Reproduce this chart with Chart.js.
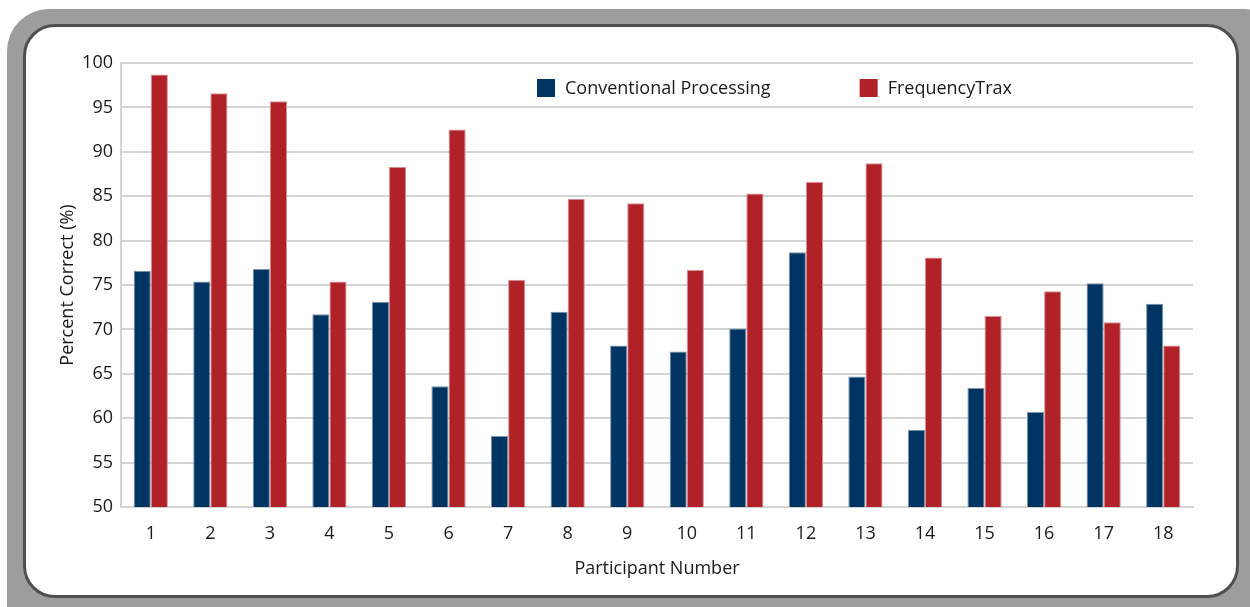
<!DOCTYPE html>
<html>
<head>
<meta charset="utf-8">
<script src="https://cdn.jsdelivr.net/npm/chart.js@4/dist/chart.umd.min.js"></script>
<style>
  html, body { margin: 0; padding: 0; background: #ffffff; width: 1250px; height: 607px; overflow: hidden; }
  #outer { position: absolute; left: 7px; top: 9px; width: 1280px; height: 640px; background: #9d9d9d; border-radius: 42px; }
  #inner { position: absolute; left: 23px; top: 24px; width: 1210px; height: 568px; background: #ffffff; border: 3px solid #4f4f4f; border-radius: 32px; }
  #c { position: absolute; left: 0; top: 0; }
</style>
</head>
<body>
<div id="outer"></div>
<div id="inner"></div>
<canvas id="c" width="1250" height="607"></canvas>
<script>
const participants = ['1','2','3','4','5','6','7','8','9','10','11','12','13','14','15','16','17','18'];
const conventional = [76.6, 75.4, 76.8, 71.7, 73.1, 63.6, 58.0, 72.0, 68.2, 67.5, 70.1, 78.7, 64.7, 58.7, 63.4, 60.7, 75.2, 72.9];
const frequencyTrax = [98.7, 96.6, 95.7, 75.4, 88.3, 92.5, 75.6, 84.7, 84.2, 76.7, 85.3, 86.6, 88.7, 78.1, 71.5, 74.3, 70.8, 68.2];
const seriesNames = ['Conventional Processing', 'FrequencyTrax'];
const yTicks = [50, 55, 60, 65, 70, 75, 80, 85, 90, 95, 100];

const FONT = '"Open Sans", Lato, sans-serif';

const insideLegend = {
  id: 'insideLegend',
  afterDraw(chart) {
    const ctx = chart.ctx;
    ctx.save();
    ctx.font = '18px ' + FONT;
    ctx.textBaseline = 'middle';
    ctx.textAlign = 'left';
    let x = 537;
    const y = 88;
    chart.data.datasets.forEach((ds, i) => {
      ctx.fillStyle = ds.backgroundColor;
      ctx.fillRect(x, y - 9, 18, 18);
      ctx.fillStyle = '#1a1a1a';
      ctx.fillText(ds.label, x + 28, y + 1);
      x += 28 + ctx.measureText(ds.label).width + 89;
    });
    ctx.restore();
  }
};

new Chart(document.getElementById('c'), {
  type: 'bar',
  data: {
    labels: participants,
    datasets: [
      { label: seriesNames[0], data: conventional, backgroundColor: '#003462', borderColor: '#7a93ad', borderWidth: 1, borderSkipped: 'start' },
      { label: seriesNames[1], data: frequencyTrax, backgroundColor: '#b02228', borderColor: '#d98d91', borderWidth: 1, borderSkipped: 'start' }
    ]
  },
  options: {
    responsive: false,
    animation: false,
    devicePixelRatio: 1,
    layout: { padding: { left: 53, right: 57, top: 63, bottom: 23 } },
    datasets: { bar: { categoryPercentage: 0.575, barPercentage: 1.0 } },
    plugins: { legend: { display: false }, tooltip: { enabled: false } },
    scales: {
      x: {
        grid: { display: false, drawTicks: false },
        border: { display: true, color: '#d4d4d4', width: 2 },
        ticks: { color: '#1a1a1a', font: { family: FONT, size: 18 }, padding: 16 },
        title: { display: true, text: 'Participant Number', color: '#1a1a1a', font: { family: FONT, size: 18 } },
        afterFit: s => { s.height = 77; }
      },
      y: {
        min: 50, max: 100,
        afterBuildTicks: s => { s.ticks = yTicks.map(v => ({ value: v })); },
        grid: { color: '#d4d4d4', lineWidth: 2, drawTicks: false },
        border: { display: true, color: '#d4d4d4', width: 2 },
        ticks: { color: '#1a1a1a', font: { family: FONT, size: 18 }, padding: 8 },
        title: { display: true, text: 'Percent Correct (%)', color: '#1a1a1a', font: { family: FONT, size: 18 } },
        afterFit: s => { s.width = 68; }
      }
    }
  },
  plugins: [insideLegend]
});
</script>
</body>
</html>
